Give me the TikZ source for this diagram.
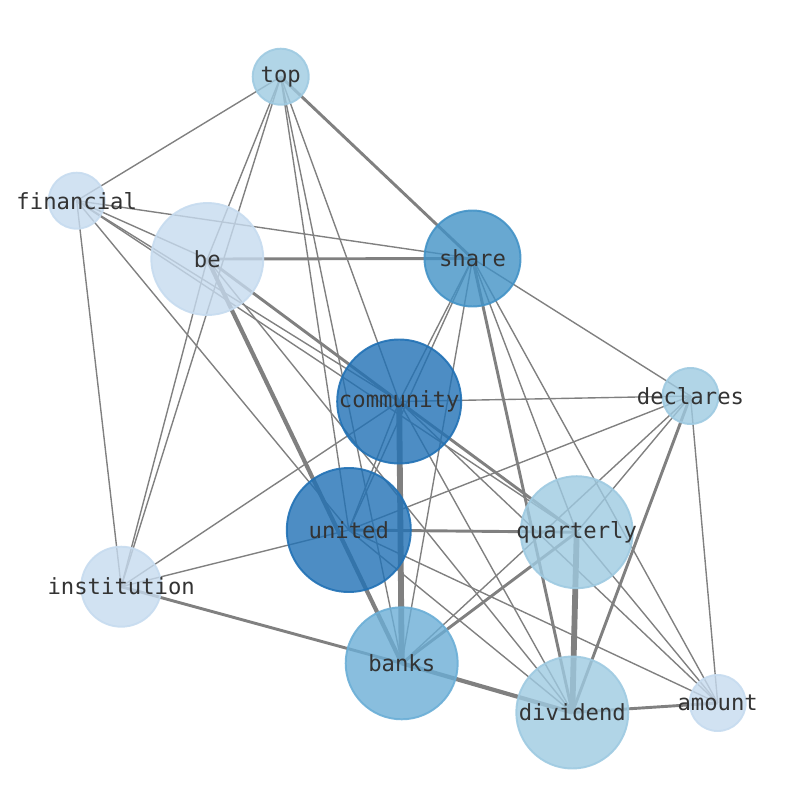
\documentclass[tikz,border=0pt]{standalone}
\usepackage{fontspec}
\setmonofont{DejaVu Sans Mono}
\usetikzlibrary{backgrounds}
\definecolor{bluea}{HTML}{C6DBEF}
\definecolor{blueb}{HTML}{9ECAE1}
\definecolor{bluec}{HTML}{6BAED6}
\definecolor{blued}{HTML}{4292C6}
\definecolor{bluee}{HTML}{2171B5}
\definecolor{edgegray}{gray}{0.5}
\definecolor{wordgray}{gray}{0.2}

\begin{document}
\begin{tikzpicture}[x=0.72pt,y=-0.72pt,
  word/.style 2 args={circle, inner sep=0pt, minimum size=#1*1.44pt, fill=#2, draw=#2, fill opacity=0.8, draw opacity=0.9, line width=1.4pt},
  every label/.style={inner sep=0pt, text=wordgray, font=\ttfamily\fontsize{16}{16}\selectfont},
  link/.style={draw=edgegray, line width=1pt},
  mid/.style={line width=2.1pt},
  heavy/.style={line width=3pt},
  heaviest/.style={line width=4.2pt}]
    \useasboundingbox (0,0) rectangle (794,790);
    \node [word={28}{blueb}, label=center:top] (top) at (280.7,76.7) {};
    \node [word={28}{bluea}, label=center:financial] (financial) at (76.7,200.7) {};
    \node [word={56}{bluea}, label=center:be] (be) at (207.3,259) {};
    \node [word={48}{blued}, label=center:share] (share) at (472.5,258.5) {};
    \node [word={62}{bluee}, label=center:community] (community) at (399.2,401.5) {};
    \node [word={28}{blueb}, label=center:declares] (declares) at (690.5,396) {};
    \node [word={62}{bluee}, label=center:united] (united) at (348.8,530) {};
    \node [word={56}{blueb}, label=center:quarterly] (quarterly) at (576.7,532.2) {};
    \node [word={40}{bluea}, label=center:institution] (institution) at (121.2,586.7) {};
    \node [word={56}{bluec}, label=center:banks] (banks) at (401.7,663.3) {};
    \node [word={56}{blueb}, label=center:dividend] (dividend) at (572.3,712.5) {};
    \node [word={28}{bluea}, label=center:amount] (amount) at (717.7,703) {};
    \begin{pgfonlayer}{background}
    \path[link] (top.center) edge (financial.center);
    \path[link, mid] (top.center) edge (share.center);
    \path[link] (top.center) edge (be.center);
    \path[link] (top.center) edge (institution.center);
    \path[link] (top.center) edge (united.center);
    \path[link] (top.center) edge (banks.center);
    \path[link] (top.center) edge (community.center);
    \path[link] (financial.center) edge (share.center);
    \path[link] (financial.center) edge (be.center);
    \path[link] (financial.center) edge (community.center);
    \path[link] (financial.center) edge (quarterly.center);
    \path[link] (financial.center) edge (united.center);
    \path[link] (financial.center) edge (institution.center);
    \path[link, mid] (be.center) edge (share.center);
    \path[link, mid] (be.center) edge (community.center);
    \path[link, heavy] (be.center) edge (banks.center);
    \path[link] (be.center) edge (institution.center);
    \path[link] (be.center) edge (dividend.center);
    \path[link] (share.center) edge (declares.center);
    \path[link] (share.center) edge (community.center);
    \path[link] (share.center) edge (united.center);
    \path[link] (share.center) edge (banks.center);
    \path[link, mid] (share.center) edge (dividend.center);
    \path[link] (share.center) edge (quarterly.center);
    \path[link] (share.center) edge (amount.center);
    \path[link] (community.center) edge (declares.center);
    \path[link, heaviest] (community.center) edge (banks.center);
    \path[link, mid] (community.center) edge (quarterly.center);
    \path[link] (community.center) edge (institution.center);
    \path[link] (community.center) edge (united.center);
    \path[link] (community.center) edge (dividend.center);
    \path[link] (community.center) edge (amount.center);
    \path[link] (declares.center) edge (united.center);
    \path[link] (declares.center) edge (banks.center);
    \path[link] (declares.center) edge (quarterly.center);
    \path[link, mid] (declares.center) edge (dividend.center);
    \path[link] (declares.center) edge (amount.center);
    \path[link, mid] (united.center) edge (quarterly.center);
    \path[link] (united.center) edge (institution.center);
    \path[link] (united.center) edge (dividend.center);
    \path[link] (united.center) edge (amount.center);
    \path[link, mid] (quarterly.center) edge (banks.center);
    \path[link, heaviest] (quarterly.center) edge (dividend.center);
    \path[link] (quarterly.center) edge (amount.center);
    \path[link, mid] (institution.center) edge (banks.center);
    \path[link, heavy] (banks.center) edge (dividend.center);
    \path[link, mid] (dividend.center) edge (amount.center);
    \end{pgfonlayer}
\end{tikzpicture}
\end{document}
